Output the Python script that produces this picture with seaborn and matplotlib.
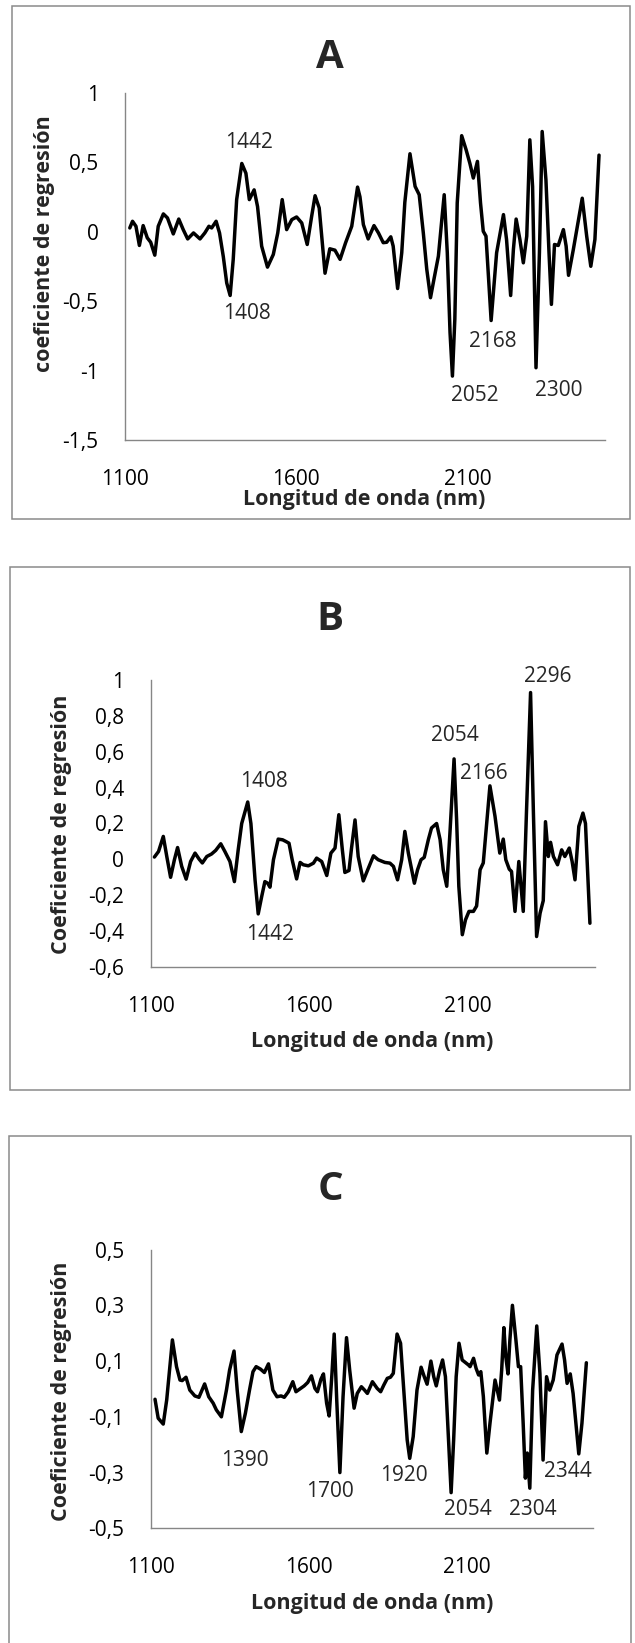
import matplotlib
matplotlib.use("Agg")
import matplotlib.pyplot as plt
import matplotlib.patches as patches
import seaborn as sns
import pandas as pd

# ---------------- data ----------------
x_ticks = [1100, 1600, 2100]
x_ticklabels = ["1100", "1600", "2100"]

A_x = [1114, 1122, 1132, 1142, 1153, 1165, 1175, 1187, 1197, 1212, 1224, 1241, 1257, 1270,
       1283, 1300, 1319, 1333, 1345, 1353, 1366, 1376, 1387, 1397, 1407, 1416, 1426, 1441,
       1453, 1463, 1477, 1487, 1499, 1516, 1533, 1546, 1559, 1572, 1587, 1601, 1616, 1632,
       1645, 1655, 1667, 1684, 1698, 1713, 1728, 1744, 1762, 1779, 1786, 1796, 1810, 1827,
       1840, 1854, 1864, 1876, 1883, 1896, 1908, 1917, 1932, 1947, 1959, 1971, 1981, 1992,
       2002, 2015, 2025, 2032, 2041, 2049, 2056, 2063, 2070, 2083, 2096, 2107, 2117, 2129,
       2138, 2146, 2154, 2169, 2185, 2205, 2214, 2226, 2234, 2242, 2253, 2263, 2273, 2282,
       2290, 2300, 2310, 2318, 2329, 2338, 2345, 2354, 2365, 2380, 2388, 2395, 2409, 2435,
       2448, 2460, 2472, 2484]
A_y = [0.026, 0.074, 0.038, -0.10, 0.043, -0.045, -0.077, -0.17, 0.038, 0.127, 0.098, -0.017,
       0.09, 0.014, -0.053, -0.01, -0.053, -0.01, 0.038, 0.026, 0.074, -0.01, -0.18, -0.37,
       -0.46, -0.20, 0.23, 0.49, 0.42, 0.23, 0.30, 0.18, -0.105, -0.256, -0.165, -0.01, 0.23,
       0.014, 0.086, 0.105, 0.062, -0.093, 0.11, 0.258, 0.17, -0.30, -0.124, -0.134, -0.20,
       -0.081, 0.038, 0.32, 0.25, 0.05, -0.053, 0.043, -0.01, -0.08, -0.077, -0.038, -0.105,
       -0.41, -0.153, 0.21, 0.56, 0.325, 0.265, -0.01, -0.27, -0.476, -0.344, -0.177, 0.086,
       0.265, -0.153, -0.727, -1.04, -0.631, 0.206, 0.69, 0.588, 0.49, 0.385, 0.505, 0.206,
       0.002, -0.033, -0.64, -0.153, 0.122, -0.057, -0.46, -0.129, 0.09, -0.057, -0.225,
       -0.033, 0.66, 0.325, -0.98, -0.153, 0.72, 0.373, -0.153, -0.524, -0.093, -0.10, 0.014,
       -0.105, -0.315, -0.129, 0.24, -0.033, -0.25, -0.057, 0.55]
A_yticks = [1, 0.5, 0, -0.5, -1, -1.5]
A_yticklabels = ["1", "0,5", "0", "-0,5", "-1", "-1,5"]
A_labels = ["1442", "1408", "2168", "2052", "2300"]
A_label_x = [1463, 1455, 2175, 2120, 2366]
A_label_y = [0.64, -0.588, -0.794, -1.18, -1.146]

B_x = [1112, 1125, 1140, 1151, 1163, 1175, 1185, 1198, 1212, 1226, 1240, 1253, 1263, 1277,
       1292, 1305, 1321, 1334, 1350, 1364, 1376, 1387, 1406, 1416, 1429, 1439, 1450, 1460,
       1469, 1476, 1487, 1502, 1516, 1526, 1536, 1546, 1560, 1571, 1581, 1597, 1613, 1623,
       1639, 1655, 1668, 1681, 1693, 1704, 1712, 1725, 1733, 1744, 1754, 1770, 1784, 1802,
       1817, 1838, 1854, 1865, 1878, 1891, 1901, 1912, 1931, 1941, 1952, 1962, 1975, 1985,
       2001, 2012, 2022, 2033, 2043, 2056, 2064, 2071, 2082, 2092, 2103, 2117, 2127, 2138,
       2148, 2169, 2185, 2200, 2211, 2219, 2230, 2237, 2248, 2260, 2274, 2284, 2297, 2306,
       2316, 2327, 2337, 2344, 2353, 2360, 2369, 2382, 2395, 2405, 2419, 2428, 2437, 2449,
       2462, 2470, 2484]
B_y = [0.013, 0.044, 0.128, 0.016, -0.10, -0.002, 0.066, -0.039, -0.11, -0.012, 0.035, 0.001,
       -0.02, 0.016, 0.03, 0.05, 0.087, 0.044, -0.012, -0.124, 0.054, 0.20, 0.32, 0.20,
       -0.114, -0.304, -0.207, -0.124, -0.133, -0.155, -0.002, 0.113, 0.109, 0.10, 0.09,
       -0.002, -0.109, -0.017, -0.03, -0.036, -0.021, 0.007, -0.012, -0.09, 0.035, 0.063,
       0.249, 0.054, -0.073, -0.062, 0.063, 0.22, 0.016, -0.12, -0.058, 0.02, -0.002, -0.017,
       -0.021, -0.039, -0.114, -0.002, 0.156, 0.035, -0.133, -0.058, -0.002, 0.011, 0.11,
       0.175, 0.20, 0.11, -0.058, -0.15, 0.147, 0.56, 0.221, -0.15, -0.42, -0.337, -0.29,
       -0.29, -0.26, -0.058, -0.02, 0.41, 0.24, 0.035, 0.113, -0.002, -0.055, -0.067, -0.29,
       -0.012, -0.29, 0.258, 0.93, 0.258, -0.43, -0.30, -0.23, 0.21, 0.016, 0.095, 0.016,
       -0.03, 0.053, 0.016, 0.063, -0.012, -0.114, 0.184, 0.258, 0.20, -0.356]
B_yticks = [1, 0.8, 0.6, 0.4, 0.2, 0, -0.2, -0.4, -0.6]
B_yticklabels = ["1", "0,8", "0,6", "0,4", "0,2", "0", "-0,2", "-0,4", "-0,6"]
B_labels = ["1408", "1442", "2054", "2166", "2296"]
B_label_x = [1457, 1476, 2059, 2151, 2350]
B_label_y = [0.435, -0.42, 0.69, 0.48, 1.017]

C_x = [1114, 1124, 1140, 1151, 1169, 1182, 1193, 1200, 1212, 1224, 1240, 1253, 1271, 1284,
       1298, 1308, 1324, 1340, 1350, 1364, 1374, 1387, 1400, 1413, 1424, 1434, 1448, 1460,
       1473, 1487, 1500, 1513, 1523, 1536, 1550, 1560, 1571, 1586, 1597, 1609, 1620, 1628,
       1639, 1647, 1657, 1665, 1674, 1681, 1689, 1699, 1709, 1720, 1730, 1744, 1754, 1767,
       1777, 1786, 1802, 1817, 1828, 1838, 1849, 1859, 1868, 1880, 1891, 1901, 1912, 1920,
       1931, 1943, 1956, 1966, 1975, 1987, 1996, 2004, 2015, 2024, 2033, 2043, 2051, 2059,
       2067, 2076, 2086, 2097, 2106, 2111, 2122, 2130, 2138, 2145, 2153, 2164, 2174, 2190,
       2197, 2204, 2211, 2218, 2224, 2231, 2237, 2245, 2256, 2264, 2271, 2279, 2286, 2292,
       2300, 2309, 2322, 2332, 2342, 2353, 2363, 2374, 2386, 2402, 2410, 2418, 2428, 2437,
       2455, 2465, 2479]
C_y = [-0.037, -0.105, -0.126, -0.039, 0.176, 0.08, 0.032, 0.03, 0.042, -0.004, -0.025, -0.03,
       0.018, -0.028, -0.051, -0.075, -0.10, -0.004, 0.068, 0.136, -0.004, -0.153, -0.087,
       -0.004, 0.062, 0.08, 0.071, 0.059, 0.09, -0.004, -0.028, -0.025, -0.03, -0.01, 0.026,
       -0.01, -0.001, 0.011, 0.023, 0.047, 0.002, -0.01, 0.035, 0.054, -0.051, -0.097, 0.056,
       0.197, -0.039, -0.30, -0.028, 0.184, 0.068, -0.069, -0.016, 0.008, -0.004, -0.016,
       0.026, 0.002, -0.01, 0.014, 0.038, 0.042, 0.056, 0.197, 0.164, -0.004, -0.183, -0.249,
       -0.171, -0.004, 0.078, 0.044, 0.017, 0.10, 0.044, 0.011, 0.068, 0.104, 0.044, -0.183,
       -0.372, -0.183, 0.044, 0.164, 0.104, 0.094, 0.086, 0.08, 0.11, 0.074, 0.05, 0.062,
       -0.027, -0.23, -0.123, 0.032, -0.004, -0.04, 0.068, 0.22, 0.116, 0.054, 0.176, 0.30,
       0.176, 0.08, 0.08, -0.123, -0.32, -0.23, -0.356, -0.004, 0.226, 0.056, -0.255, 0.044,
       -0.004, 0.032, 0.122, 0.161, 0.104, 0.02, 0.054, -0.016, -0.233, -0.123, 0.094]
C_yticks = [0.5, 0.3, 0.1, -0.1, -0.3, -0.5]
C_yticklabels = ["0,5", "0,3", "0,1", "-0,1", "-0,3", "-0,5"]
C_labels = ["1390", "1700", "1920", "2054", "2304", "2344"]
C_label_x = [1397, 1668, 1903, 2105, 2311, 2421]
C_label_y = [-0.257, -0.368, -0.309, -0.432, -0.432, -0.297]

titles = ["A", "B", "C"]
ylabels = ["coeficiente de regresión", "Coeficiente de regresión", "Coeficiente de regresión"]
xlabel = "Longitud de onda (nm)"

# ---------------- style ----------------
sns.set_style("white")
plt.rcParams["font.family"] = ["Open Sans", "DejaVu Sans"]

W, H = 635, 1643
fig = plt.figure(figsize=(W / 100, H / 100), dpi=100)


def fx(px):
    return px / W


def fy(py):
    return 1 - py / H


GRAY = "#8a8a8a"
AXGRAY = "#868686"
TICK_FS = 15
LAB_FS = 15.5

panels = [
    dict(x=A_x, y=A_y, yt=A_yticks, ytl=A_yticklabels, ylim=(-1.5, 1),
         lab=A_labels, lx=A_label_x, ly=A_label_y,
         box=(12, 6, 630, 519), ax=(125, 92.6, 604.5, 440),
         title=(330, 58), xl=(364, 499), yl=(45, 244)),
    dict(x=B_x, y=B_y, yt=B_yticks, ytl=B_yticklabels, ylim=(-0.6, 1),
         lab=B_labels, lx=B_label_x, ly=B_label_y,
         box=(10, 567, 630, 1090), ax=(150.6, 680, 595, 967),
         title=(330, 620), xl=(372, 1042), yl=(62, 824)),
    dict(x=C_x, y=C_y, yt=C_yticks, ytl=C_yticklabels, ylim=(-0.5, 0.5),
         lab=C_labels, lx=C_label_x, ly=C_label_y,
         box=(9, 1136, 631, 1660), ax=(150.6, 1249.6, 593, 1528.3),
         title=(330, 1189), xl=(372, 1604), yl=(61, 1391)),
]

for i, p in enumerate(panels):
    bx0, by0, bx1, by1 = p["box"]
    rect = patches.Rectangle((fx(bx0), fy(by1)), (bx1 - bx0) / W, (by1 - by0) / H,
                             transform=fig.transFigure, fill=False,
                             edgecolor=GRAY, linewidth=1.1)
    fig.patches.append(rect)

    l, t, r, b = p["ax"]
    ax = fig.add_axes([fx(l), fy(b), (r - l) / W, (b - t) / H])
    df = pd.DataFrame({"x": p["x"], "y": p["y"]})
    sns.lineplot(data=df, x="x", y="y", ax=ax, color="black", linewidth=2.5,
                 sort=False, estimator=None)
    ax.lines[0].set_solid_joinstyle("round")
    ax.lines[0].set_solid_capstyle("round")
    ax.set_xlim(1100, 2500)
    ax.set_ylim(*p["ylim"])
    ax.set_xticks(x_ticks)
    ax.set_xticklabels(x_ticklabels)
    ax.set_yticks(p["yt"])
    ax.set_yticklabels(p["ytl"])
    ax.tick_params(axis="both", length=0, labelsize=TICK_FS, colors="black")
    ax.tick_params(axis="y", pad=19)
    ax.tick_params(axis="x", pad=21)
    ax.set_xlabel("")
    ax.set_ylabel("")
    for s in ["top", "right"]:
        ax.spines[s].set_visible(False)
    for s in ["left", "bottom"]:
        ax.spines[s].set_color(AXGRAY)
        ax.spines[s].set_linewidth(1.0)
    ax.patch.set_alpha(0)
    for txt, lx, ly in zip(p["lab"], p["lx"], p["ly"]):
        ax.text(lx, ly, txt, ha="center", va="center", fontsize=TICK_FS, clip_on=False)

    fig.text(fx(p["title"][0]), fy(p["title"][1]), titles[i], ha="center", va="center",
             fontsize=29, fontweight="bold")
    fig.text(fx(p["xl"][0]), fy(p["xl"][1]), xlabel, ha="center", va="center",
             fontsize=LAB_FS, fontweight="bold")
    fig.text(fx(p["yl"][0]), fy(p["yl"][1]), ylabels[i], ha="center", va="center",
             fontsize=LAB_FS, fontweight="bold", rotation=90)

fig.savefig("out.png", dpi=100)
